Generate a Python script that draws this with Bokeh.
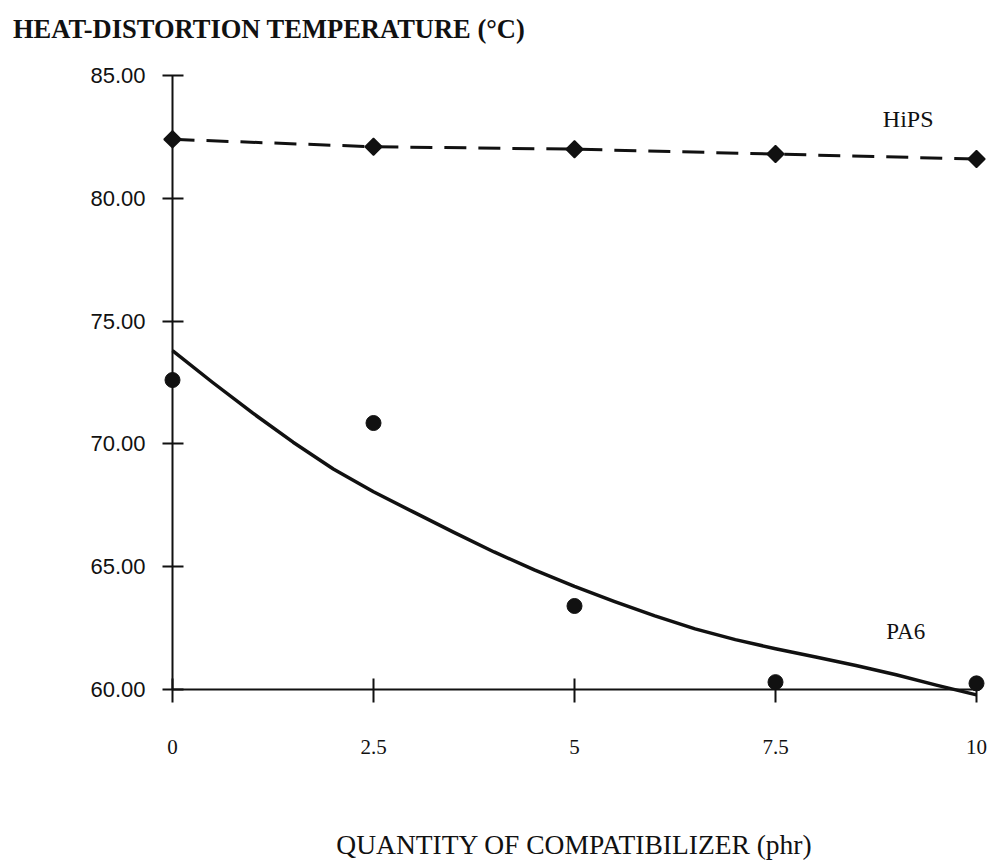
import math

from bokeh.core.properties import value
from bokeh.embed import file_html
from bokeh.models import ColumnDataSource, FixedTicker, Label, NumeralTickFormatter, Range1d
from bokeh.plotting import figure
from bokeh.resources import INLINE

# Compatibilizer loading (phr) of the measured blends
phr = [0, 2.5, 5, 7.5, 10]
# Heat-distortion temperature (deg C) of each blend series
hips_hdt = [82.4, 82.1, 82.0, 81.8, 81.6]
pa6_hdt = [72.6, 70.85, 63.4, 60.3, 60.25]

# Smoothed trend line drawn through the PA6 results
pa6_trend_phr = [0, 0.5, 1, 1.5, 2, 2.5, 3, 3.5, 4, 4.5, 5,
                 5.5, 6, 6.5, 7, 7.5, 8, 8.5, 9, 9.5, 10]
pa6_trend_hdt = [73.8, 72.5, 71.25, 70.07, 68.98, 68.05, 67.22, 66.4, 65.6, 64.87, 64.2,
                 63.58, 63.0, 62.47, 62.03, 61.66, 61.32, 60.98, 60.6, 60.18, 59.78]

# Axis ticks and their printed labels
x_ticks = [0, 2.5, 5, 7.5, 10]
x_tick_labels = ["0", "2.5", "5", "7.5", "10"]
y_ticks = [60, 65, 70, 75, 80, 85]
y_tick_labels = ["60.00", "65.00", "70.00", "75.00", "80.00", "85.00"]

title_text = "HEAT-DISTORTION TEMPERATURE (\u00b0C)"
x_title = "QUANTITY OF COMPATIBILIZER (phr)"
series_names = ["HiPS", "PA6"]

INK = "#111111"
SERIF = "Liberation Serif"
SANS = "Liberation Sans"

p = figure(
    width=991, height=862,
    x_range=Range1d(0, 10), y_range=Range1d(60, 85),
    output_backend="svg", toolbar_location=None,
    min_border_left=172, min_border_right=15,
    min_border_top=75, min_border_bottom=172,
    background_fill_color="white", border_fill_color="white",
    outline_line_color=None,
)
p.grid.visible = False

# x axis
xa = p.xaxis[0]
xa.ticker = FixedTicker(ticks=x_ticks)
xa.formatter = NumeralTickFormatter(format="0.[0]")
xa.major_label_overrides = dict(zip(x_ticks, x_tick_labels))
xa.minor_tick_line_color = None
xa.major_tick_in = 11
xa.major_tick_out = 13
xa.axis_line_width = 2
xa.axis_line_color = INK
xa.major_tick_line_width = 2
xa.major_tick_line_color = INK
xa.major_label_text_font = SERIF
xa.major_label_text_font_size = "21px"
xa.major_label_text_color = INK
xa.major_label_standoff = 37
xa.axis_label = x_title
xa.axis_label_text_font = SERIF
xa.axis_label_text_font_size = "27.5px"
xa.axis_label_text_font_style = "normal"
xa.axis_label_text_color = INK
xa.axis_label_standoff = 72

# y axis
ya = p.yaxis[0]
ya.ticker = FixedTicker(ticks=y_ticks)
ya.formatter = NumeralTickFormatter(format="0.00")
ya.major_label_overrides = dict(zip(y_ticks, y_tick_labels))
ya.minor_tick_line_color = None
ya.major_tick_in = 11
ya.major_tick_out = 10
ya.axis_line_width = 2
ya.axis_line_color = INK
ya.major_tick_line_width = 2
ya.major_tick_line_color = INK
ya.major_label_text_font = SANS
ya.major_label_text_font_size = "22px"
ya.major_label_text_color = INK
ya.major_label_standoff = 17

hips_src = ColumnDataSource(dict(phr=phr, hdt=hips_hdt))
pa6_src = ColumnDataSource(dict(phr=phr, hdt=pa6_hdt))
trend_src = ColumnDataSource(dict(phr=pa6_trend_phr, hdt=pa6_trend_hdt))

# HiPS: dashed line joining diamond markers
p.line("phr", "hdt", source=hips_src, line_color=INK, line_width=3, line_dash="22 12")
hips_pts = p.scatter("phr", "hdt", source=hips_src, marker="square", angle=math.pi / 4,
                     size=12, fill_color=INK, line_color=INK, line_width=1.5)
hips_pts.level = "overlay"

# PA6: solid trend curve plus measured points
trend = p.line("phr", "hdt", source=trend_src, line_color=INK, line_width=3.5,
               line_join="round")
trend.level = "overlay"
pa6_pts = p.scatter("phr", "hdt", source=pa6_src, marker="circle", size=15,
                    fill_color=INK, line_color=INK)
pa6_pts.level = "overlay"

# Heading above the y axis, drawn as an unclipped text glyph so it can sit
# left of the plotting frame
heading = p.text(x=[-1.984], y=[86.9], text=[title_text], text_align="left",
                 text_baseline="alphabetic", text_font=value(SERIF),
                 text_font_size="26.5px", text_font_style="bold", text_color=INK)
heading.level = "overlay"

# Series names
p.add_layout(Label(x=9.15, y=83.24, text=series_names[0], text_align="center",
                   text_baseline="middle", text_font=SERIF,
                   text_font_size="24px", text_color=INK))
p.add_layout(Label(x=9.12, y=62.35, text=series_names[1], text_align="center",
                   text_baseline="middle", text_font=SERIF,
                   text_font_size="23px", text_color=INK))

open("out.html", "w").write(file_html(p, INLINE))
